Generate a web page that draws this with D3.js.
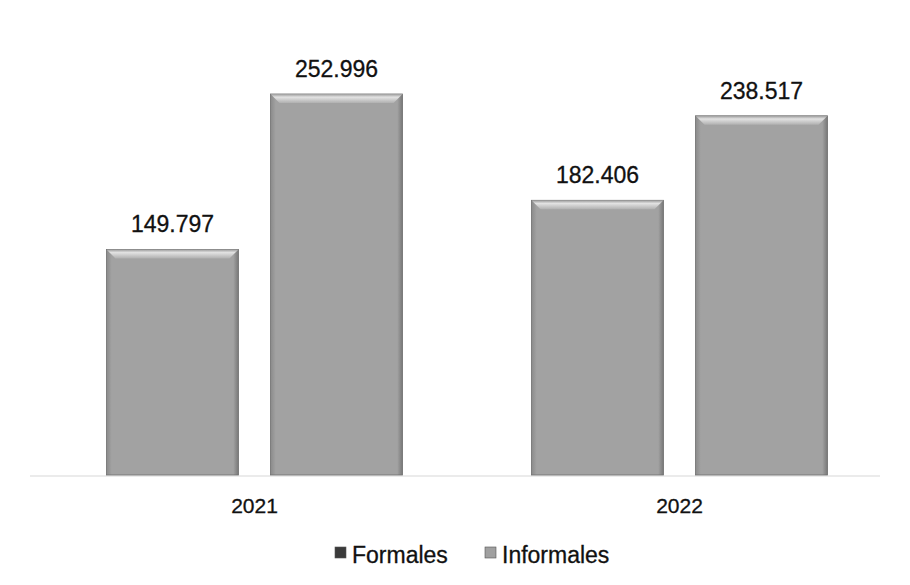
<!DOCTYPE html>
<html><head><meta charset="utf-8">
<script src="https://cdn.jsdelivr.net/npm/d3@7"></script>
<style>body{margin:0;background:#fff}svg{display:block}text{font-family:"Liberation Sans",Arial,sans-serif;fill:#111;stroke:#111;stroke-width:0.3}</style>
</head><body>
<svg id="c" width="910" height="585"></svg>
<script>
const categories = ["2021", "2022"];
const seriesNames = ["Formales", "Informales"];
const formales = [149797, 182406];
const informales = [252996, 238517];
const valueLabels = [["149.797", "252.996"], ["182.406", "238.517"]];

const svg = d3.select("#c");
const baseY = 475;
const x0 = d3.scaleBand().domain(categories).range([42, 892]).paddingInner(0).paddingOuter(0);
const x1 = d3.scaleBand().domain(seriesNames).range([0, x0.bandwidth()]).paddingInner(0.195).paddingOuter(0.393);
const y = d3.scaleLinear().domain([0, 252996]).range([baseY, 94]);

const defs = svg.append("defs");
const g1 = defs.append("linearGradient").attr("id","bodyG").attr("x1",0).attr("x2",1).attr("y1",0).attr("y2",0);
g1.append("stop").attr("offset","0%").attr("stop-color","#8a8a8a");
g1.append("stop").attr("offset","4%").attr("stop-color","#a2a2a2");
g1.append("stop").attr("offset","96%").attr("stop-color","#a2a2a2");
g1.append("stop").attr("offset","100%").attr("stop-color","#777");
const g2 = defs.append("linearGradient").attr("id","bevG").attr("x1",0).attr("x2",0).attr("y1",0).attr("y2",1);
g2.append("stop").attr("offset","0%").attr("stop-color","#9a9a9a");
g2.append("stop").attr("offset","35%").attr("stop-color","#e2e2e2");
g2.append("stop").attr("offset","100%").attr("stop-color","#b0b0b0");

svg.append("line").attr("x1",30).attr("x2",880).attr("y1",baseY+1).attr("y2",baseY+1)
  .attr("stroke","#ebebeb").attr("stroke-width",2);

const rows = categories.map((c,i)=>({cat:c, vals:[formales[i], informales[i]], labels:valueLabels[i]}));
const grp = svg.selectAll("g.cat").data(rows).join("g").attr("class","cat")
  .attr("transform", d=>`translate(${x0(d.cat)},0)`);

grp.each(function(d){
  const g = d3.select(this);
  d.vals.forEach((v,j)=>{
    const bx = x1(seriesNames[j]), bw = x1.bandwidth(), by = y(v), bh = baseY - y(v);
    g.append("rect").attr("x",bx).attr("y",by).attr("width",bw).attr("height",bh)
      .attr("fill","url(#bodyG)").attr("stroke","#6e6e6e").attr("stroke-width",0.8);
    const b = 9;
    g.append("path").attr("d",`M${bx},${by}L${bx+bw},${by}L${bx+bw-b},${by+b}L${bx+b},${by+b}Z`)
      .attr("fill","url(#bevG)");
    g.append("text").attr("x",bx+bw/2).attr("y",by-17).attr("text-anchor","middle")
      .attr("font-size",23).text(d.labels[j]);
  });
  g.append("text").attr("x",x0.bandwidth()/2).attr("y",513).attr("text-anchor","middle")
    .attr("font-size",21).text(d.cat);
});

const legend = [{name:"Formales", color:"#3a3a3a", x:335}, {name:"Informales", color:"#a0a0a0", x:485}];
const lg = svg.selectAll("g.leg").data(legend).join("g").attr("class","leg");
lg.append("rect").attr("x",d=>d.x).attr("y",547).attr("width",11).attr("height",11)
  .attr("fill",d=>d.color).attr("stroke","#555").attr("stroke-width",0.6);
lg.append("text").attr("x",d=>d.x+17).attr("y",563).attr("font-size",23).text(d=>d.name);
</script>
</body></html>
